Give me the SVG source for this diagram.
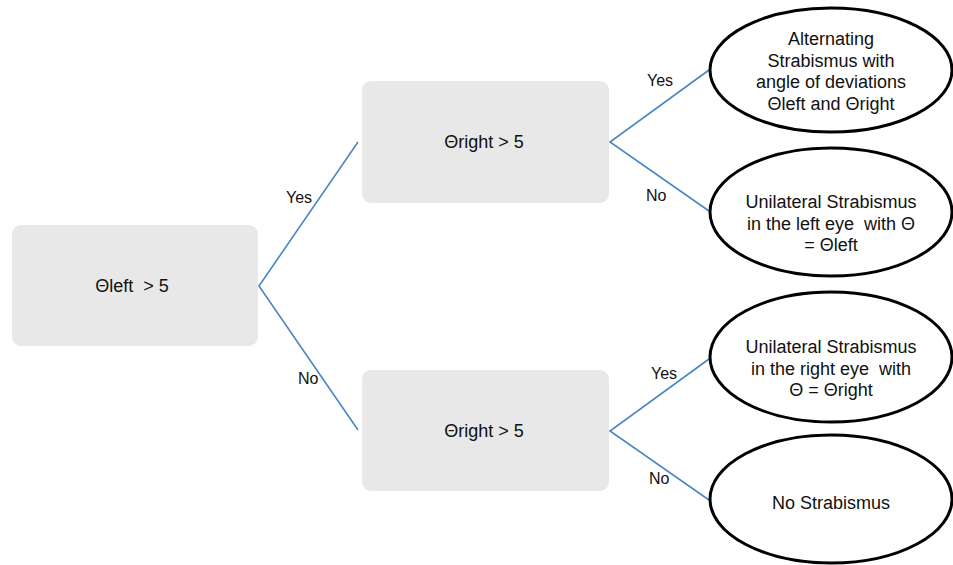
<svg xmlns="http://www.w3.org/2000/svg" width="953" height="565" viewBox="0 0 953 565">
<style>
.box{fill:#e8e8e8;stroke:none}
.ell{fill:#fff;stroke:#000;stroke-width:3}
.t{font-family:"Liberation Sans",Arial,sans-serif;font-size:18px;fill:#111;text-anchor:middle;white-space:pre}
.lbl{font-family:"Liberation Sans",Arial,sans-serif;font-size:16px;fill:#111}
.c{stroke:#4a86c5;stroke-width:1.6;fill:none}
</style>
<rect width="953" height="565" fill="#fff"/>
<g id="connectors">
<polyline class="c" points="358,142 259,286 358,430"/>
<polyline class="c" points="709,70 610,142 709,211"/>
<polyline class="c" points="709,359 610,431 709,500"/>
</g>
<g id="labels">
<text class="lbl" x="286" y="203">Yes</text>
<text class="lbl" x="298" y="384">No</text>
<text class="lbl" x="647" y="86">Yes</text>
<text class="lbl" x="646" y="201">No</text>
<text class="lbl" x="651" y="379">Yes</text>
<text class="lbl" x="649" y="484">No</text>
</g>
<g id="n1"><rect class="box" x="12" y="225" width="246" height="121" rx="9"/><text class="t" x="132" y="292">Θleft  &gt; 5</text></g>
<g id="n2"><rect class="box" x="362" y="81" width="247" height="122" rx="9"/><text class="t" x="484" y="148">Θright &gt; 5</text></g>
<g id="n3"><rect class="box" x="362" y="370" width="247" height="121" rx="9"/><text class="t" x="484" y="437">Θright &gt; 5</text></g>
<g id="e1"><ellipse class="ell" cx="831" cy="70" rx="121" ry="62"/>
<text class="t" x="831" y="45">Alternating</text><text class="t" x="831" y="66.5">Strabismus with</text><text class="t" x="831" y="88">angle of deviations</text><text class="t" x="831" y="109.5">Θleft and Θright</text></g>
<g id="e2"><ellipse class="ell" cx="831" cy="212" rx="121" ry="64"/>
<text class="t" x="831" y="208">Unilateral Strabismus</text><text class="t" x="831" y="229.5">in the left eye  with Θ</text><text class="t" x="831" y="251">= Θleft</text></g>
<g id="e3"><ellipse class="ell" cx="831" cy="357" rx="121" ry="65"/>
<text class="t" x="831" y="353">Unilateral Strabismus</text><text class="t" x="831" y="374.5">in the right eye  with</text><text class="t" x="831" y="396">Θ = Θright</text></g>
<g id="e4"><ellipse class="ell" cx="831" cy="499" rx="121" ry="64"/>
<text class="t" x="831" y="509">No Strabismus</text></g>
</svg>
